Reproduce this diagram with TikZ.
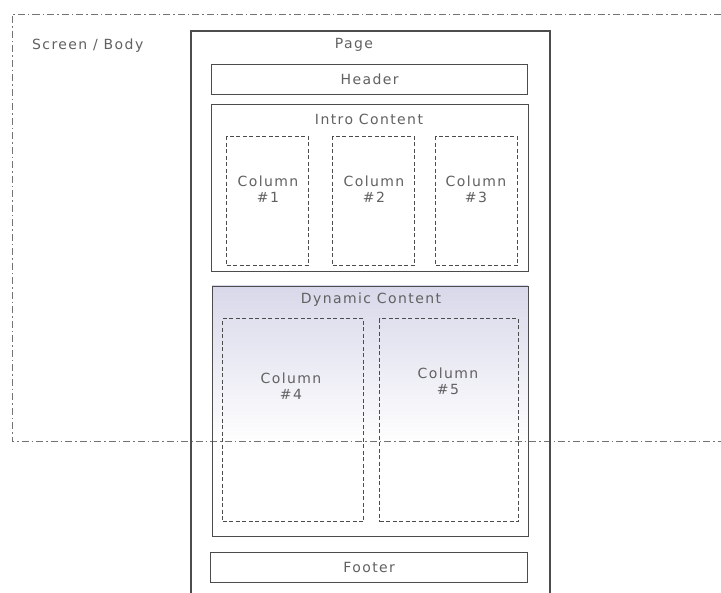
\documentclass[tikz,border=0pt]{standalone}
\usepackage{fontspec}
\setmainfont[LetterSpace=10]{DejaVu Sans}
\definecolor{dynfill}{RGB}{216,216,234}
\begin{document}
\begin{tikzpicture}[x=1pt,y=-1pt,
  linecol/.style={draw=black!70, line width=1.3pt},
  solidbox/.style={linecol, rectangle, anchor=north west, inner sep=0pt},
  colbox/.style={draw=black!70, line width=1.2pt, dash pattern=on 4pt off 2.5pt, rectangle, anchor=north west, inner sep=0pt},
  lbl/.style={text=black!62, font=\fontsize{14}{16}\selectfont, inner sep=1pt, align=center},
  screenline/.style={draw=black!55, line width=1pt, dash pattern=on 7pt off 3pt on 1.5pt off 3pt}
]
\useasboundingbox (0,0) rectangle (721,593);
\fill[white] (0,0) rectangle (721,593);

% Dynamic content fill
\shade[top color=dynfill, bottom color=white] (212,286) rectangle (528,445);

% Screen / Body
\coordinate (s1) at (721,15);
\coordinate (s2) at (12,15);
\coordinate (s3) at (12,442);
\coordinate (s4) at (721,442);
\draw[screenline] (s1) -- (s2) -- (s3) -- (s4);
\node[lbl, anchor=west] (screen) at (31,46) {Screen / Body};

% Page
\coordinate (p1) at (191,593);
\coordinate (p2) at (191,31);
\coordinate (p3) at (550,31);
\coordinate (p4) at (550,593);
\draw[linecol] (p1) -- (p2) -- (p3) -- (p4);
\node[lbl] (page) at (354,45) {Page};

% Header
\node[solidbox, minimum width=316, minimum height=30] (header) at (211,64) {};
\node[lbl] (headerlbl) at (header.center) {Header};

% Intro content
\node[solidbox, minimum width=317, minimum height=167] (intro) at (211,104) {};
\node[lbl] (introlbl) at (369,119) {Intro Content};
\node[colbox, minimum width=82, minimum height=129] (c1) at (226,136) {};
\node[colbox, minimum width=82, minimum height=129] (c2) at (332,136) {};
\node[colbox, minimum width=82, minimum height=129] (c3) at (435,136) {};
\node[lbl] (c1l) at (268,189) {Column\\\#1};
\node[lbl] (c2l) at (374,189) {Column\\\#2};
\node[lbl] (c3l) at (476,189) {Column\\\#3};

% Dynamic content
\node[solidbox, minimum width=316, minimum height=250] (dyn) at (212,286) {};
\node[lbl] (dynlbl) at (371,300) {Dynamic Content};
\node[colbox, minimum width=141, minimum height=203] (c4) at (222,318) {};
\node[colbox, minimum width=139, minimum height=203] (c5) at (379,318) {};
\node[lbl] (c4l) at (291,386) {Column\\\#4};
\node[lbl] (c5l) at (448,381) {Column\\\#5};

% Footer
\node[solidbox, minimum width=317, minimum height=30] (footer) at (210,552) {};
\node[lbl] (footerlbl) at (footer.center) {Footer};
\end{tikzpicture}
\end{document}
